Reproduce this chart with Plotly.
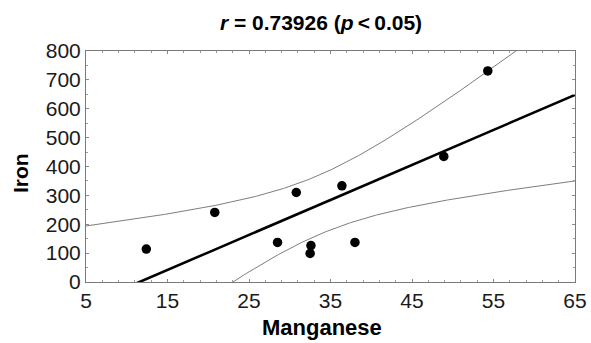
import numpy as np
import plotly.graph_objects as go

# Data
manganese = [12.4, 20.8, 28.5, 30.8, 32.6, 32.5, 36.4, 38.0, 48.9, 54.3]
iron = [114, 241, 137, 310, 126, 99, 333, 137, 435, 731]

x_ticks = [5, 15, 25, 35, 45, 55, 65]
y_ticks = [0, 100, 200, 300, 400, 500, 600, 700, 800]
title_text = "<b><i>r</i> = 0.73926 (<i>p</i>\u2009&lt;\u20090.05)</b>"
x_title = "Manganese"
y_title = "Iron"

# Linear regression and 95% confidence band for the mean
x = np.array(manganese, dtype=float)
y = np.array(iron, dtype=float)
n = len(x)
slope, intercept = np.polyfit(x, y, 1)
resid = y - (slope * x + intercept)
s = np.sqrt(np.sum(resid ** 2) / (n - 2))
sxx = np.sum((x - x.mean()) ** 2)
t_crit = 2.306  # t(0.975, df=8)

xg = np.linspace(5, 65, 400)
yfit = slope * xg + intercept
half = t_crit * s * np.sqrt(1.0 / n + (xg - x.mean()) ** 2 / sxx)
upper = yfit + half
lower = yfit - half

FONT = "Liberation Sans, Arial, Helvetica, sans-serif"

fig = go.Figure()
band_style = dict(color="#6e6e6e", width=0.9)
fig.add_trace(go.Scatter(x=xg, y=upper, mode="lines", line=band_style, hoverinfo="skip"))
fig.add_trace(go.Scatter(x=xg, y=lower, mode="lines", line=band_style, hoverinfo="skip"))
fig.add_trace(go.Scatter(x=xg, y=yfit, mode="lines", line=dict(color="black", width=2.6)))
fig.add_trace(go.Scatter(x=manganese, y=iron, mode="markers",
                         marker=dict(color="black", size=9.5)))

axis_common = dict(
    showgrid=False, zeroline=False, automargin=False,
    showline=True, linecolor="#7a7a7a", linewidth=1, mirror="ticks",
    ticks="inside", ticklen=3, tickcolor="#8a8a8a", tickwidth=1,
    tickfont=dict(family=FONT, size=21, color="#1a1a1a"),
)

fig.update_layout(
    width=591, height=343,
    margin=dict(l=86, r=16, t=51, b=61),
    paper_bgcolor="white", plot_bgcolor="white",
    showlegend=False,
    title=dict(text=title_text, x=321 / 591, xanchor="center", xref="container",
               y=1 - 23 / 343, yanchor="middle", yref="container", automargin=False,
               font=dict(family=FONT, size=21, color="black")),
    xaxis=dict(range=[5, 65], tickvals=x_ticks, ticktext=[str(v) for v in x_ticks],
               minor=dict(ticks="inside", dtick=2, tick0=5, ticklen=2, tickcolor="#9a9a9a"),
               **axis_common),
    yaxis=dict(range=[0, 800], tickvals=y_ticks, ticktext=[str(v) for v in y_ticks],
               minor=dict(ticks="inside", dtick=50, ticklen=2, tickcolor="#9a9a9a"),
               ticklabelstandoff=0,
               **axis_common),
    annotations=[
        dict(text="<b>" + x_title + "</b>", xref="paper", yref="paper",
             x=(322 - 86) / (575 - 86), y=0,
             yshift=-60, xanchor="center", yanchor="bottom", showarrow=False,
             font=dict(family=FONT, size=22, color="black")),
        dict(text="<b>" + y_title + "</b>", xref="paper", yref="paper", x=0,
             y=(282 - 173) / (282 - 51),
             xshift=-66, xanchor="center", yanchor="middle", showarrow=False, textangle=-90,
             font=dict(family=FONT, size=21, color="black")),
    ],
)

fig.write_html("out.html", config={"displayModeBar": False},
               post_script="document.body.style.margin='0';")
